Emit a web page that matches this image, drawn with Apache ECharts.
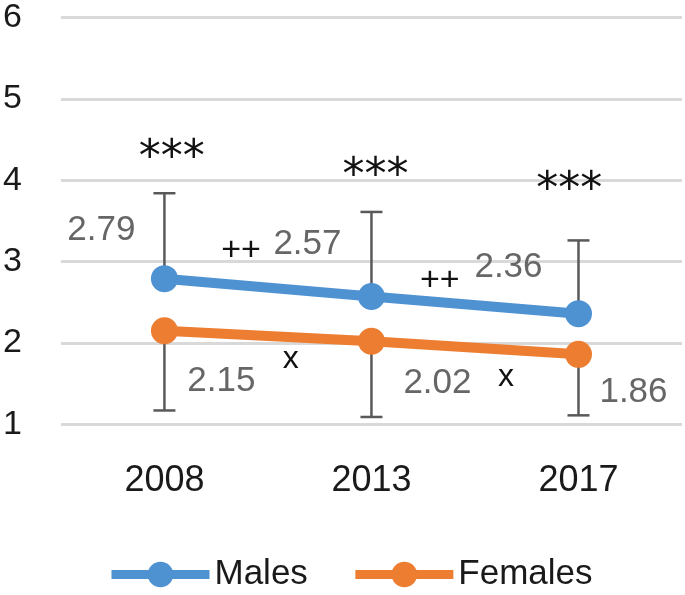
<!DOCTYPE html>
<html>
<head>
<meta charset="utf-8">
<script src="https://cdn.jsdelivr.net/npm/echarts@6/dist/echarts.min.js"></script>
<style>
  html, body { margin: 0; padding: 0; background: #ffffff; }
  #chart { width: 685px; height: 595px; }
</style>
</head>
<body>
<div id="chart"></div>
<script>
// ---- data ----
const years = ['2008', '2013', '2017'];
const males = [2.79, 2.57, 2.36];
const females = [2.15, 2.02, 1.86];
const maleUpper = [3.84, 3.61, 3.26];     // upper whisker of males
const femaleLower = [1.17, 1.09, 1.11];   // lower whisker of females
const yTicks = [1, 2, 3, 4, 5, 6];

// significance annotations (text, x position in category units, y level)
const annoText  = ['***', '***', '***', '++', '++', 'x', 'x'];
const annoX     = [0.035, 1.02, 1.955, 0.37, 1.33, 0.61, 1.65];
const annoLevel = [4.25, 4.03, 3.86, 3.13, 2.76, 1.80, 1.58];

// ---- layout / styles ----
const FONT = 'Liberation Sans';
const BLUE = '#4E92D2';
const ORANGE = '#ED7D31';
const maleLabelOffset = [[-63, -48], [-64, -52], [-70, -46]];
const femaleLabelOffset = [[57, 51], [66, 42], [55, 38]];
const annoFont = [44, 44, 44, 34, 34, 32, 32];
const annoFamily = ['DejaVu Sans', 'DejaVu Sans', 'DejaVu Sans', FONT, FONT, FONT, FONT];

const chart = echarts.init(document.getElementById('chart'));

function errBar(params, api) {
  const p0 = api.coord([api.value(0), api.value(1)]);
  const p1 = api.coord([api.value(0), api.value(2)]);
  const cap = 11;
  const st = { stroke: '#595959', lineWidth: 2.5 };
  return {
    type: 'group',
    children: [
      { type: 'line', shape: { x1: p0[0], y1: p0[1], x2: p1[0], y2: p1[1] }, style: st },
      { type: 'line', shape: { x1: p1[0] - cap, y1: p1[1], x2: p1[0] + cap, y2: p1[1] }, style: st }
    ]
  };
}

function annoItem(params, api) {
  const i = params.dataIndex;
  const xv = annoX[i];
  const base = Math.min(Math.floor(xv), years.length - 2);
  const frac = xv - base;
  const a = api.coord([base, annoLevel[i]]);
  const b = api.coord([base + 1, annoLevel[i]]);
  const x = a[0] + (b[0] - a[0]) * frac;
  return {
    type: 'text',
    x: x,
    y: a[1],
    style: {
      text: annoText[i],
      fontSize: annoFont[i],
      fontFamily: annoFamily[i],
      fill: '#111111',
      align: 'center',
      verticalAlign: 'middle'
    }
  };
}

const labelCommon = {
  show: true,
  position: 'inside',
  fontSize: 35,
  fontFamily: FONT,
  color: '#666666',
  align: 'center',
  verticalAlign: 'middle'
};

chart.setOption({
  animation: false,
  backgroundColor: '#ffffff',
  grid: { left: 59, right: 3, top: 17.5, bottom: 170.7 },
  xAxis: {
    type: 'category',
    data: years,
    boundaryGap: true,
    axisLine: { show: false },
    axisTick: { show: false },
    axisLabel: {
      fontSize: 36, fontFamily: FONT, color: '#1a1a1a',
      margin: 57, verticalAlign: 'middle'
    }
  },
  yAxis: {
    type: 'value',
    min: yTicks[0],
    max: yTicks[yTicks.length - 1],
    interval: 1,
    axisLine: { show: false },
    axisTick: { show: false },
    axisLabel: { fontSize: 34, fontFamily: FONT, color: '#1a1a1a', margin: 39 },
    splitLine: { lineStyle: { color: '#d9d9d9', width: 3 } }
  },
  legend: {
    left: 102,
    top: 552,
    itemWidth: 98,
    itemHeight: 32,
    itemGap: 43,
    data: ['Males', 'Females'],
    textStyle: { fontSize: 35, fontFamily: FONT, color: '#1a1a1a' },
    lineStyle: { width: 9 }
  },
  series: [
    {
      type: 'custom',
      name: 'maleErr',
      renderItem: errBar,
      z: 1,
      silent: true,
      data: years.map((y, i) => [i, males[i], maleUpper[i]])
    },
    {
      type: 'custom',
      name: 'femaleErr',
      renderItem: errBar,
      z: 1,
      silent: true,
      data: years.map((y, i) => [i, females[i], femaleLower[i]])
    },
    {
      type: 'line',
      name: 'Males',
      z: 3,
      symbol: 'circle',
      symbolSize: 27,
      color: BLUE,
      lineStyle: { width: 10, color: BLUE },
      itemStyle: { color: BLUE },
      label: labelCommon,
      data: males.map((v, i) => ({ value: v, label: { offset: maleLabelOffset[i] } }))
    },
    {
      type: 'line',
      name: 'Females',
      z: 3,
      symbol: 'circle',
      symbolSize: 27,
      color: ORANGE,
      lineStyle: { width: 10, color: ORANGE },
      itemStyle: { color: ORANGE },
      label: labelCommon,
      data: females.map((v, i) => ({ value: v, label: { offset: femaleLabelOffset[i] } }))
    },
    {
      type: 'custom',
      name: 'annotations',
      renderItem: annoItem,
      z: 4,
      silent: true,
      data: annoText.map((t, i) => [0, annoLevel[i]])
    }
  ]
});
</script>
</body>
</html>
